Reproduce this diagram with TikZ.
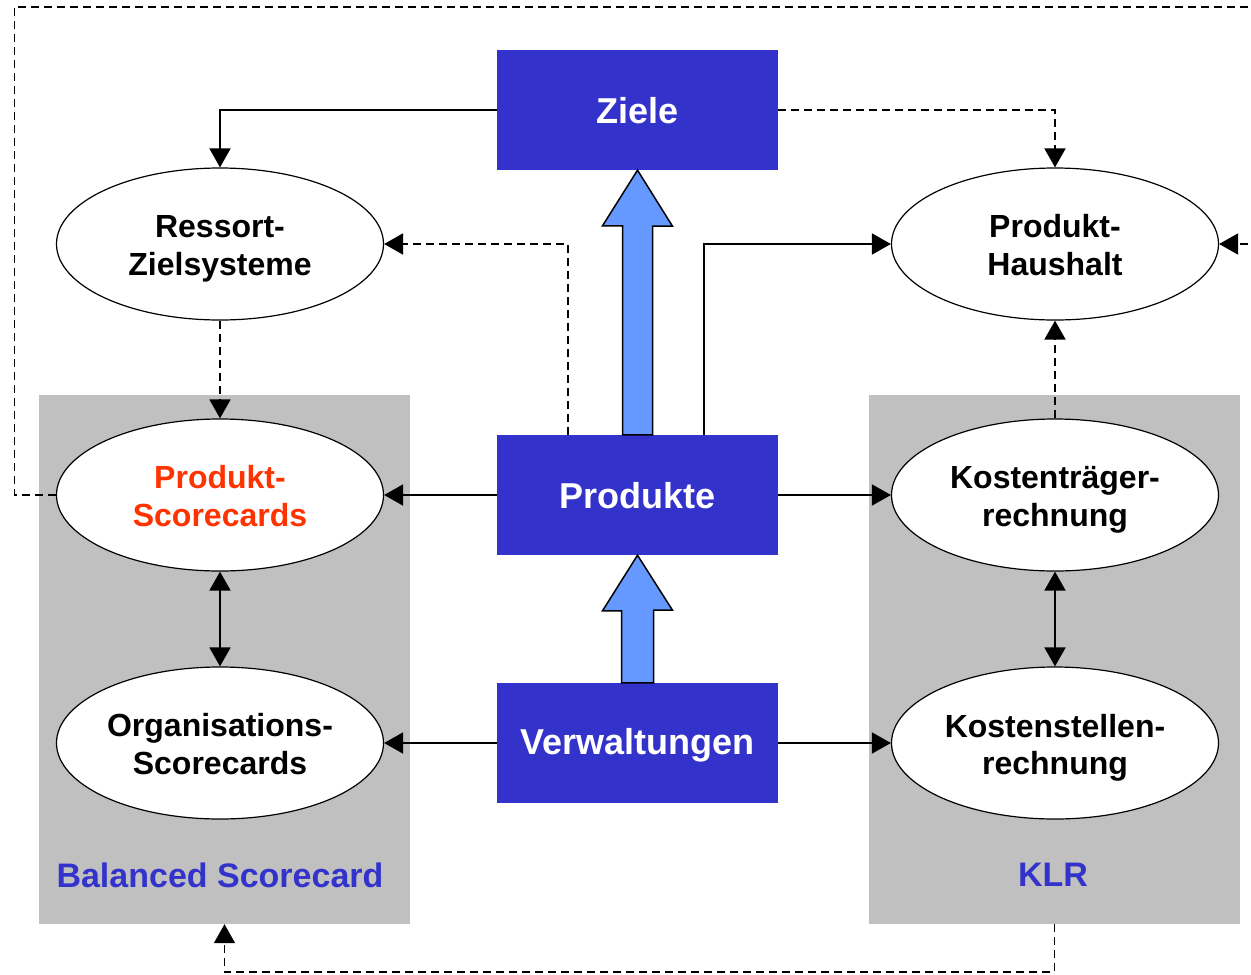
\documentclass[tikz,border=0pt]{standalone}
\usepackage{fontspec}
\setmainfont{Liberation Sans}
\usetikzlibrary{arrows.meta,shapes.geometric,calc}
\definecolor{boxblue}{HTML}{3333CC}
\definecolor{arrowblue}{HTML}{6699FF}
\definecolor{panelgray}{HTML}{C0C0C0}
\definecolor{prodred}{HTML}{FF3300}
\begin{document}
\begin{tikzpicture}[x=1pt,y=-1pt,
  bluebox/.style={rectangle,fill=boxblue,draw=none,minimum width=281pt,minimum height=120pt,inner sep=0pt},
  boxtext/.style={text=white,font=\fontsize{36}{41}\selectfont\bfseries,inner sep=0pt},
  oval/.style={ellipse,draw=black,line width=1.2pt,fill=white,minimum width=327pt,minimum height=152pt,inner sep=0pt},
  ovaltext/.style={align=center,inner sep=0pt,font=\fontsize{32}{37.5}\selectfont\bfseries},
  panel/.style={rectangle,fill=panelgray,draw=none,minimum width=371pt,minimum height=529pt,inner sep=0pt},
  paneltitle/.style={text=boxblue,font=\fontsize{34}{40}\selectfont\bfseries},
  tip/.tip={Triangle[length=19pt,width=21pt]},
  conn/.style={line width=1.8pt,-tip},
  dconn/.style={conn,dash pattern=on 8pt off 5pt},
  biconn/.style={line width=1.8pt,tip-tip},
  blockarrow/.style={fill=arrowblue,draw=black,line width=1.5pt,line join=miter}
]
\useasboundingbox (0,0) rectangle (1251,975);
\clip (0,0) rectangle (1251,975);
\fill[white] (0,0) rectangle (1251,975);

% panels
\node[panel] (bsc) at (224.5,659.5) {};
\node[panel] (klr) at (1054.5,659.5) {};
\node[paneltitle] (bsct) at (220,875) {Balanced Scorecard};
\node[paneltitle] (klrt) at (1053,875) {KLR};

% blue boxes
\node[bluebox] (ziele) at (637.5,110) {};
\node[boxtext] (zielet) at (637.5,111) {Ziele};
\node[bluebox] (produkte) at (637.5,495) {};
\node[boxtext] (produktet) at (637.5,496) {Produkte};
\node[bluebox] (verw) at (637.5,743) {};
\node[boxtext] (verwt) at (637.5,745) {Verwaltungen};

% ellipses
\node[oval] (ressort) at (220,244) {};
\node[ovaltext] (ressortt) at (220,249) {Ressort-\\Zielsysteme};
\node[oval] (haushalt) at (1055,244) {};
\node[ovaltext] (haushaltt) at (1055,245) {Produkt-\\Haushalt};
\node[oval] (psc) at (220,495) {};
\node[ovaltext,text=prodred] (psct) at (220,496) {Produkt-\\Scorecards};
\node[oval] (ktr) at (1055,495) {};
\node[ovaltext] (ktrt) at (1055,500) {Kostenträger-\\rechnung};
\node[oval] (osc) at (220,743) {};
\node[ovaltext] (osct) at (220,744) {Organisations-\\Scorecards};
\node[oval] (kst) at (1055,743) {};
\node[ovaltext] (kstt) at (1055,748) {Kostenstellen-\\rechnung};

% block arrows
\draw[blockarrow] ($(produkte.north)+(-15,0)$) -- ++(0,-209) -- ++(-20,0) -- (ziele.south) -- ($(ziele.south)+(35,56)$) -- ++(-20,0) -- ($(produkte.north)+(15,0)$) -- cycle;
\draw[blockarrow] ($(verw.north)+(-16,0)$) -- ++(0,-72) -- ++(-19,0) -- (produkte.south) -- ($(produkte.south)+(35,55)$) -- ++(-19,0) -- ($(verw.north)+(16,0)$) -- cycle;

% connectors
\draw[conn] (ziele.west) -| (ressort.north);
\draw[dconn] (ziele.east) -| (haushalt.north);
\coordinate (pl) at ($(produkte.north west)+(71,0)$);
\coordinate (pr) at ($(produkte.north west)+(207,0)$);
\draw[dconn] (pl) |- (ressort.east);
\draw[conn] (pr) |- (haushalt.west);
\draw[dconn] (ressort.south) -- (psc.north);
\draw[dconn] (ktr.north) -- (haushalt.south);
\draw[conn] (produkte.west) -- (psc.east);
\draw[conn] (produkte.east) -- (ktr.west);
\draw[biconn] (psc.south) -- (osc.north);
\draw[biconn] (ktr.south) -- (kst.north);
\draw[conn] (verw.west) -- (osc.east);
\draw[conn] (verw.east) -- (kst.west);

\coordinate (o1) at (14.5,495);
\coordinate (o2) at (14.5,7);
\coordinate (o3) at (1262,7);
\coordinate (o4) at (1262,244);
\draw[dconn] (psc.west) -- (o1) -- (o2) -- (o3) -- (o4) -- (haushalt.east);

\coordinate (b1) at (1054.5,972);
\coordinate (b2) at (224.5,972);
\draw[dconn] (klr.south) -- (b1) -- (b2) -- (bsc.south);
\end{tikzpicture}
\end{document}
